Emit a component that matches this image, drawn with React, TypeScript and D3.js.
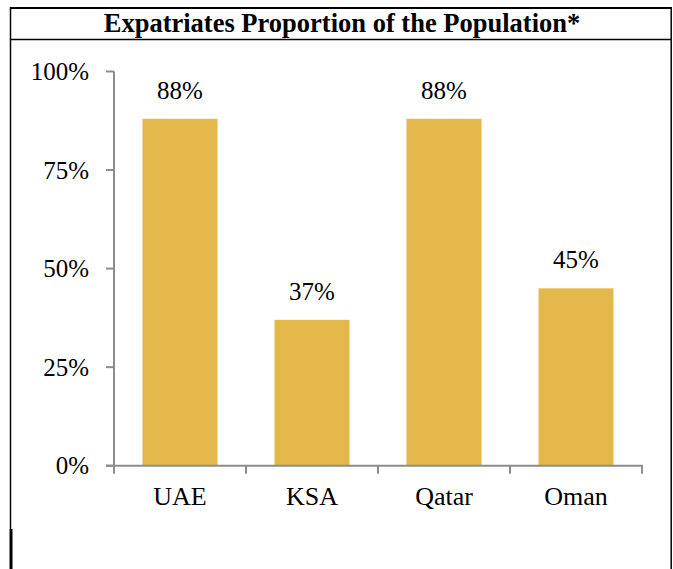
import React from "react";
import * as d3 from "d3";

const categories = ["UAE", "KSA", "Qatar", "Oman"];
const values = [88, 37, 88, 45];
const yTicks = [0, 25, 50, 75, 100];
const title = "Expatriates Proportion of the Population*";

const W = 673;
const H = 569;
const FONT = "'Liberation Serif', 'Times New Roman', Times, serif";
const AXIS = "#8c8c8c";
const BAR = "#E5B84B";

export default function App() {
  const x = d3
    .scaleBand<string>()
    .domain(categories)
    .range([114, 642])
    .paddingInner(0.432)
    .paddingOuter(0.216);
  const y = d3.scaleLinear().domain([0, 100]).range([465.7, 71.5]);
  const step = x.step();
  const x0 = x.range()[0];

  return (
    <svg
      width={W}
      height={H}
      style={{ position: "absolute", left: 0, top: 0, background: "#fff" }}
    >
      {/* frame */}
      <line x1={10} x2={672} y1={8} y2={8} stroke="#000" strokeWidth={2} />
      <line x1={10} x2={671} y1={39.5} y2={39.5} stroke="#000" strokeWidth={1.3} />
      <line x1={10.5} x2={10.5} y1={7} y2={529} stroke="#000" strokeWidth={1.5} />
      <line x1={11} x2={11} y1={529} y2={H} stroke="#000" strokeWidth={3} />
      <line x1={671.2} x2={671.2} y1={7} y2={H} stroke="#000" strokeWidth={1.5} />
      <text
        x={342}
        y={32}
        textAnchor="middle"
        fontFamily={FONT}
        fontWeight="bold"
        fontSize={26.5}
        fill="#000"
      >
        {title}
      </text>

      {/* bars */}
      {categories.map((c, i) => (
        <g key={c}>
          <rect
            x={x(c)}
            y={y(values[i])}
            width={x.bandwidth()}
            height={y(0) - y(values[i])}
            fill={BAR}
          />
          <text
            x={(x(c) as number) + x.bandwidth() / 2}
            y={y(values[i]) - 20}
            textAnchor="middle"
            fontFamily={FONT}
            fontSize={25}
            fill="#000"
          >
            {values[i]}%
          </text>
          <text
            x={(x(c) as number) + x.bandwidth() / 2}
            y={505}
            textAnchor="middle"
            fontFamily={FONT}
            fontSize={26}
            fill="#000"
          >
            {c}
          </text>
        </g>
      ))}

      {/* y axis */}
      <line x1={114} x2={114} y1={y(100)} y2={y(0)} stroke={AXIS} strokeWidth={2} />
      {yTicks.map((t) => (
        <g key={t}>
          <line x1={106} x2={114} y1={y(t)} y2={y(t)} stroke={AXIS} strokeWidth={2} />
          <text
            x={89}
            y={y(t)}
            dy="0.35em"
            textAnchor="end"
            fontFamily={FONT}
            fontSize={25}
            fill="#000"
          >
            {t}%
          </text>
        </g>
      ))}

      {/* x axis */}
      <line x1={106} x2={643} y1={y(0)} y2={y(0)} stroke={AXIS} strokeWidth={2} />
      {d3.range(categories.length + 1).map((i) => (
        <line
          key={i}
          x1={x0 + i * step}
          x2={x0 + i * step}
          y1={y(0)}
          y2={y(0) + 8}
          stroke={AXIS}
          strokeWidth={2}
        />
      ))}
    </svg>
  );
}
